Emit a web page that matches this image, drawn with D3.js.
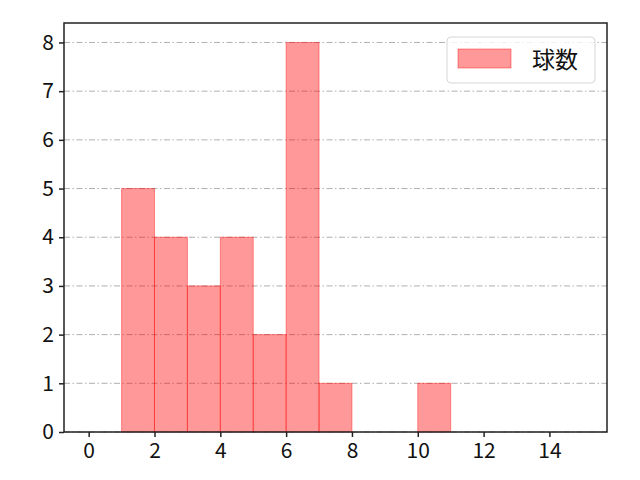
<!DOCTYPE html>
<html>
<head>
<meta charset="utf-8">
<script src="https://cdn.jsdelivr.net/npm/d3@7"></script>
<style>
  body { margin: 0; background: #fff; }
  text { font-family: "Noto Sans CJK JP", "DejaVu Sans", sans-serif; }
</style>
</head>
<body>
<div id="chart"></div>
<script>
// histogram bins (width 1) and their counts
const binStarts = [0, 1, 2, 3, 4, 5, 6, 7, 8, 9, 10, 11, 12, 13, 14];
const counts    = [0, 5, 4, 3, 4, 2, 8, 1, 0, 0, 1, 0, 0, 0, 0];
const xTicks = [0, 2, 4, 6, 8, 10, 12, 14];
const yTicks = [0, 1, 2, 3, 4, 5, 6, 7, 8];
const seriesName = "球数";

const W = 640, H = 480;
const margin = {top: 23, right: 33, bottom: 48, left: 64},
    width = W - margin.left - margin.right,
    height = H - margin.top - margin.bottom;

const svg = d3.select("#chart")
  .append("svg")
    .attr("width", W)
    .attr("height", H)
  .append("g")
    .attr("transform", `translate(${margin.left},${margin.top})`);

// matplotlib-like 5% margins around 0..15 and 0..8
const x = d3.scaleLinear()
  .domain([-0.75, 15.75])
  .range([0, width]);
const y = d3.scaleLinear()
  .domain([0, 8.4])
  .range([height, 0]);

// grid lines (horizontal only)
svg.append("g")
  .selectAll("line")
  .data(yTicks)
  .join("line")
    .attr("x1", 0)
    .attr("x2", width)
    .attr("y1", d => y(d))
    .attr("y2", d => y(d))
    .attr("stroke", "#b0b0b0")
    .attr("stroke-width", 1)
    .attr("stroke-dasharray", "6,2.5,1.5,2.5");

// bars
svg.append("g")
  .selectAll("rect")
  .data(binStarts.map((s, i) => ({s: s, c: counts[i]})).filter(d => d.c > 0))
  .join("rect")
    .attr("x", d => x(d.s))
    .attr("y", d => y(d.c))
    .attr("width", d => x(d.s + 1) - x(d.s))
    .attr("height", d => y(0) - y(d.c))
    .attr("fill", "rgba(255,0,0,0.4)")
    .attr("stroke", "rgba(255,0,0,0.4)")
    .attr("stroke-width", 1);

// axes
const xAxis = svg.append("g")
  .attr("transform", `translate(0,${height})`)
  .call(d3.axisBottom(x).tickValues(xTicks).tickSize(5).tickPadding(6));
const yAxis = svg.append("g")
  .call(d3.axisLeft(y).tickValues(yTicks).tickSize(5).tickPadding(5));

[xAxis, yAxis].forEach(a => {
  a.select(".domain").remove();
  a.selectAll(".tick line").attr("stroke", "#222").attr("stroke-width", 1.5);
  a.selectAll(".tick text").attr("fill", "#111").style("font-size", "21px");
});

// frame
svg.append("rect")
  .attr("width", width)
  .attr("height", height)
  .attr("fill", "none")
  .attr("stroke", "#222")
  .attr("stroke-width", 1.5);

// legend
const legend = svg.append("g")
  .attr("transform", `translate(${width - 160},${14})`);
legend.append("rect")
  .attr("width", 148)
  .attr("height", 46)
  .attr("rx", 4)
  .attr("fill", "rgba(255,255,255,0.8)")
  .attr("stroke", "#d6d6d6");
legend.append("rect")
  .attr("x", 11)
  .attr("y", 12)
  .attr("width", 53)
  .attr("height", 19)
  .attr("fill", "rgba(255,0,0,0.4)")
  .attr("stroke", "rgba(255,0,0,0.4)");
legend.append("text")
  .attr("x", 85)
  .attr("y", 31)
  .style("font-size", "23px")
  .attr("fill", "#111")
  .text(seriesName);
</script>
</body>
</html>
